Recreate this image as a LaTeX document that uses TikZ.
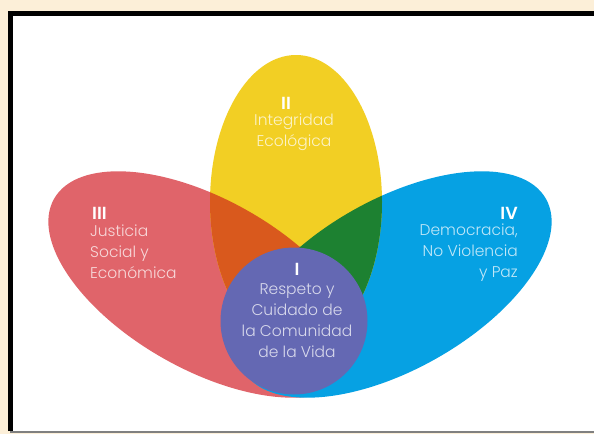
\documentclass[tikz,border=0pt]{standalone}
\usepackage{fontspec}
\setmainfont{Poppins Light}[BoldFont={Poppins SemiBold}]
\definecolor{cream}{HTML}{FCEFD8}
\definecolor{petalred}{HTML}{E0646A}
\definecolor{petalyellow}{HTML}{F2CF24}
\definecolor{petalblue}{HTML}{06A1E3}
\definecolor{petalorange}{HTML}{D9591D}
\definecolor{petalgreen}{HTML}{1D8131}
\definecolor{corepurple}{HTML}{6468B3}
\tikzset{
  petaltext/.style={text=white, text opacity=.75, inner sep=0pt,
    font=\fontsize{15.5}{21}\selectfont},
  petalnum/.style={text=white, inner sep=0pt,
    font=\fontsize{17.5}{21}\selectfont\bfseries},
}
\begin{document}
\begin{tikzpicture}[x=1pt,y=-1pt]
  \useasboundingbox (0,0) rectangle (594,434);
  % paper and frame
  \fill[cream] (0,0) rectangle (594,434);
  \fill[white] (10,13) rectangle (594,431);
  \draw[line width=5pt] (10,431) -- (10,13) -- (594,13);
  \draw[gray, line width=2pt] (10,432) -- (594,432);

  % petals
  \coordinate (red c) at (205.5,284.5);
  \coordinate (blue c) at (394.5,284.5);
  \coordinate (yellow c) at (296,202);
  \coordinate (core c) at (294,321);
  \fill[petalred, rotate around={-29.5:(red c)}] (red c) ellipse [x radius=174pt, y radius=85pt];
  \fill[petalblue, rotate around={29.5:(blue c)}] (blue c) ellipse [x radius=174pt, y radius=85pt];
  \fill[petalyellow] (yellow c) ellipse [x radius=86pt, y radius=147pt];
  \begin{scope}
    \clip[rotate around={-29.5:(red c)}] (red c) ellipse [x radius=174pt, y radius=85pt];
    \fill[petalorange] (yellow c) ellipse [x radius=86pt, y radius=147pt];
  \end{scope}
  \begin{scope}
    \clip[rotate around={29.5:(blue c)}] (blue c) ellipse [x radius=174pt, y radius=85pt];
    \fill[petalgreen] (yellow c) ellipse [x radius=86pt, y radius=147pt];
  \end{scope}
  \fill[corepurple] (core c) circle [radius=73.5pt];

  % labels
  \node[petalnum] (num ii) at (286,103) {II};
  \node[petaltext, align=center] (ecologica) at (294,132) {Integridad\\Ecológica};
  \node[petalnum, anchor=west] (num iii) at (92,213) {III};
  \node[petaltext, align=left, anchor=west] (justicia) at (90,251.5) {Justicia\\Social y\\Económica};
  \node[petalnum, anchor=east] (num iv) at (518,213) {IV};
  \node[petaltext, align=right, anchor=east] (democracia) at (518,253) {Democracia,\\No Violencia\\y Paz};
  \node[petalnum] (num i) at (297,269) {I};
  \node[petaltext, align=center] (respeto) at (297,321) {Respeto y\\Cuidado de\\la Comunidad\\de la Vida};
\end{tikzpicture}
\end{document}
